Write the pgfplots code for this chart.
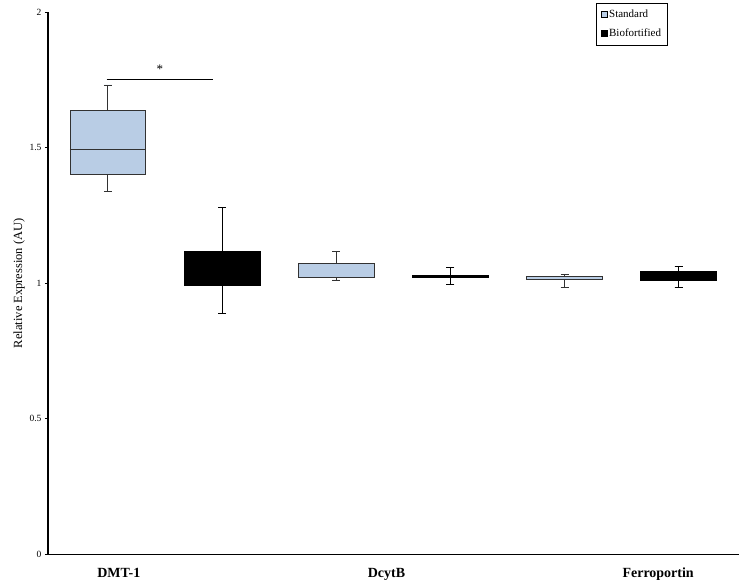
\documentclass[border=0pt]{standalone}
\usepackage{pgfplots}
\pgfplotsset{compat=1.18}
\usepgfplotslibrary{statistics}
\usepackage{fontspec}
\setmainfont{Liberation Serif}
\definecolor{stdblue}{RGB}{185,205,229}
\definecolor{edgegray}{RGB}{50,50,50}
\begin{document}
\begin{tikzpicture}
\path (-48pt,-31pt) rectangle (692pt,555pt);
\begin{axis}[
  scale only axis,
  width=692pt, height=543pt,
  xmin=-0.525, xmax=5.53,
  ymin=0, ymax=2,
  boxplot/draw direction=y,
  axis x line=bottom, axis y line=left,
  axis line style={-, line width=1.6pt, black},
  ytick={0,0.5,1,1.5,2},
  yticklabels={0,0.5,1,1.5,2},
  yticklabel style={font=\fontsize{9.5}{10}\selectfont},
  /pgf/number format/assume math mode=true,
  ytick style={black, line width=0.8pt},
  tick align=outside,
  major tick length=3pt,
  xtick={0.096,2.44,4.82},
  xticklabels={DMT-1,DcytB,Ferroportin},
  xticklabel style={font=\fontsize{14}{16}\bfseries\selectfont, text height=10pt, text depth=3pt, yshift=-7pt},
  xtick style={draw=none},
  ylabel={Relative Expression (AU)},
  ylabel style={font=\fontsize{12.5}{14}\selectfont, yshift=-2pt},
  legend style={at={(0.896,1.017)}, anchor=north east, draw=black, line width=0.6pt,
    font=\fontsize{11}{12}\selectfont, row sep=6pt, inner xsep=4pt, inner ysep=5pt,
    legend cell align=left},
  legend image code/.code={\draw[#1] (0pt,-3pt) rectangle (6pt,3pt);},
  clip=false,
]
\addlegendimage{fill=stdblue, draw=black, line width=0.6pt}
\addlegendentry{Standard}
\addlegendimage{fill=black, draw=black}
\addlegendentry{Biofortified}

% DMT-1 Standard
\addplot[black, line width=0.8pt, fill=stdblue, draw=edgegray, mark=none,
  boxplot prepared={draw position=0, lower whisker=1.338, lower quartile=1.400,
    median=1.494, upper quartile=1.637, upper whisker=1.731,
    box extend=0.665, whisker extend=0.07}] coordinates {};
% DMT-1 Biofortified
\addplot[black, line width=0.8pt, fill=black, draw=black, mark=none,
  boxplot prepared={draw position=1, lower whisker=0.888, lower quartile=0.993,
    median=1.0, upper quartile=1.119, upper whisker=1.279,
    box extend=0.665, whisker extend=0.07}] coordinates {};
% DcytB Standard
\addplot[black, line width=0.8pt, fill=stdblue, draw=edgegray, mark=none,
  boxplot prepared={draw position=2, lower whisker=1.012, lower quartile=1.021,
    median=1.022, upper quartile=1.073, upper whisker=1.117,
    box extend=0.665, whisker extend=0.07}] coordinates {};
% DcytB Biofortified
\addplot[black, line width=0.8pt, fill=black, draw=black, mark=none,
  boxplot prepared={draw position=3, lower whisker=0.994, lower quartile=1.021,
    median=1.025, upper quartile=1.030, upper whisker=1.058,
    box extend=0.665, whisker extend=0.07}] coordinates {};
% Ferroportin Standard
\addplot[black, line width=0.8pt, fill=stdblue, draw=edgegray, mark=none,
  boxplot prepared={draw position=4, lower whisker=0.983, lower quartile=1.014,
    median=1.015, upper quartile=1.025, upper whisker=1.032,
    box extend=0.665, whisker extend=0.07}] coordinates {};
% Ferroportin Biofortified
\addplot[black, line width=0.8pt, fill=black, draw=black, mark=none,
  boxplot prepared={draw position=5, lower whisker=0.983, lower quartile=1.011,
    median=1.02, upper quartile=1.042, upper whisker=1.063,
    box extend=0.665, whisker extend=0.07}] coordinates {};

% significance bar
\addplot[black, line width=1pt, mark=none] coordinates {(-0.01,1.752) (0.92,1.752)};
\node[font=\fontsize{13}{13}\selectfont] at (axis cs:0.455,1.79) {*};
\end{axis}
\end{tikzpicture}
\end{document}
